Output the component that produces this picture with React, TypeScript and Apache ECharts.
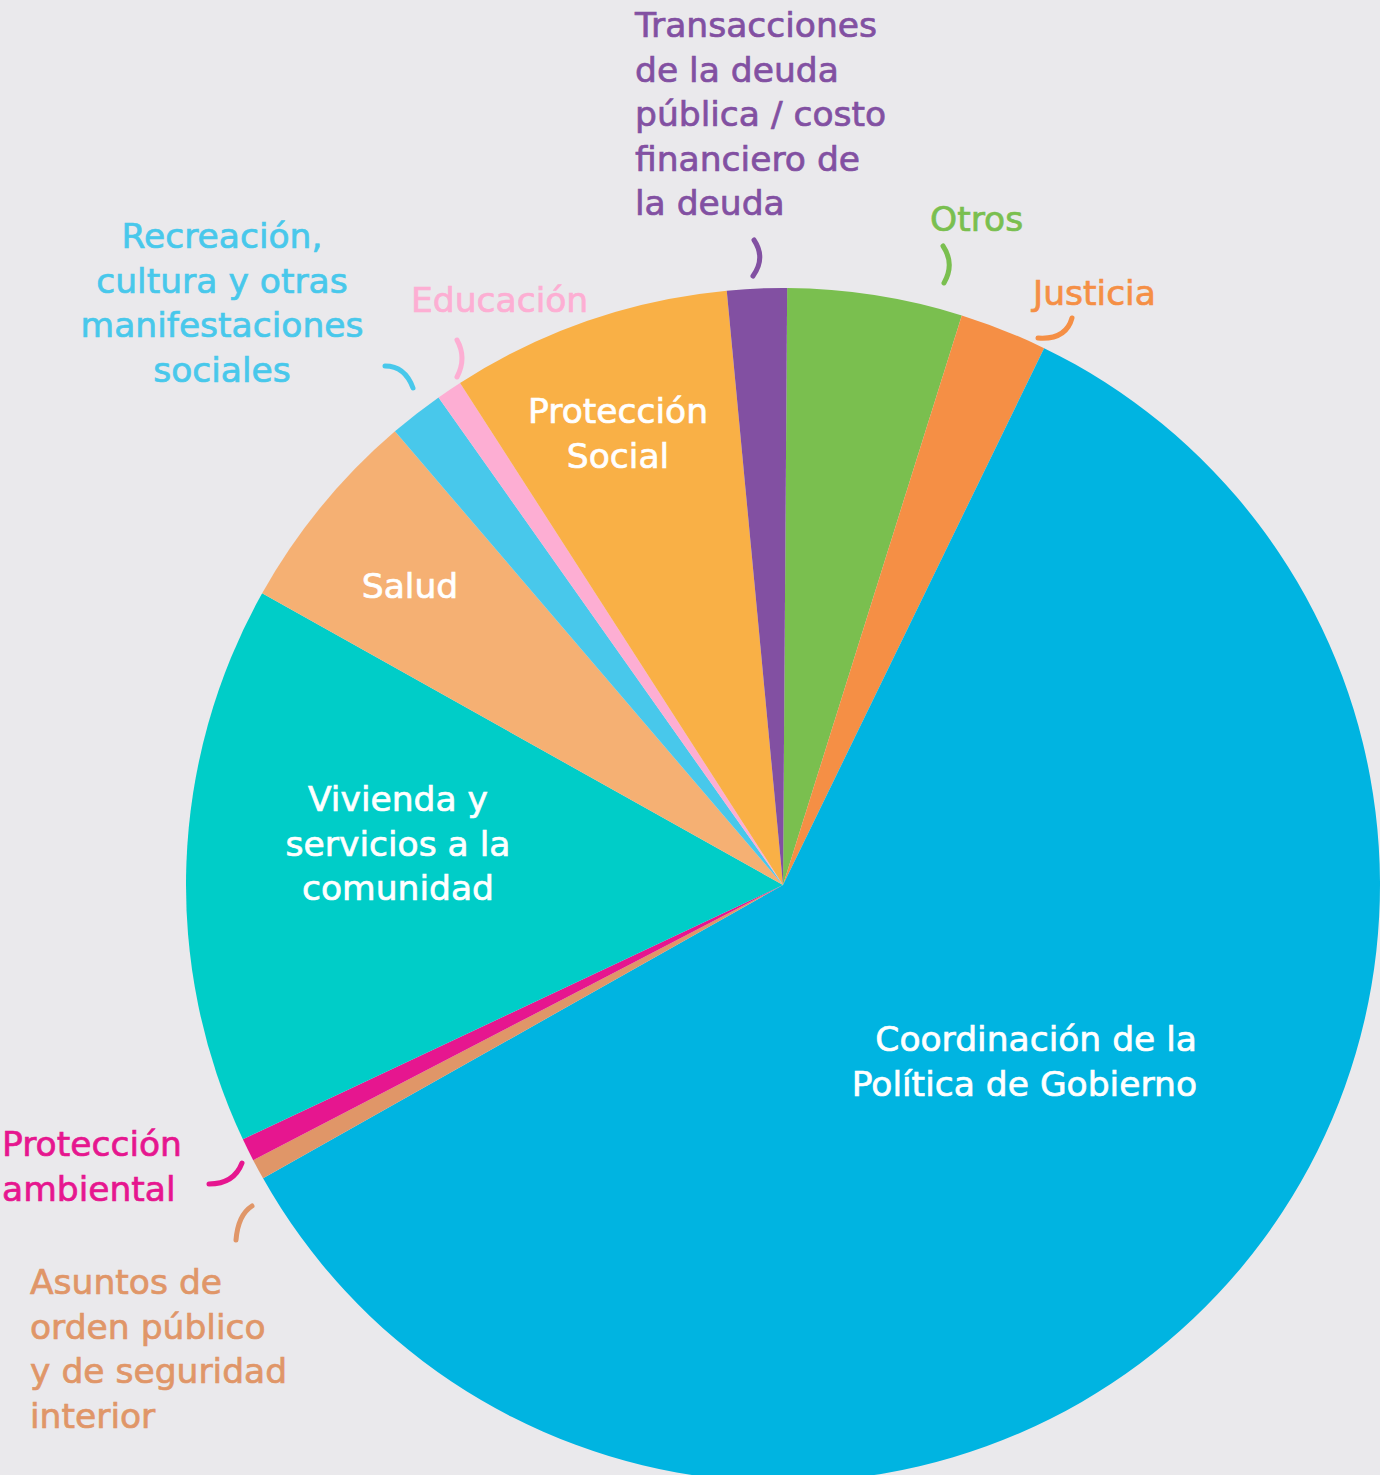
import React, { useEffect, useRef } from "react";
import * as echarts from "echarts";

const categories = [
  "Otros",
  "Justicia",
  "Coordinación de la Política de Gobierno",
  "Asuntos de orden público y de seguridad interior",
  "Protección ambiental",
  "Vivienda y servicios a la comunidad",
  "Salud",
  "Recreación, cultura y otras manifestaciones sociales",
  "Educación",
  "Protección Social",
  "Transacciones de la deuda pública / costo financiero de la deuda",
];
const labelTexts = [
  "Otros",
  "Justicia",
  "Coordinación de la\nPolítica de Gobierno",
  "Asuntos de\norden público\ny de seguridad\ninterior",
  "Protección\nambiental",
  "Vivienda y\nservicios a la\ncomunidad",
  "Salud",
  "Recreación,\ncultura y otras\nmanifestaciones\nsociales",
  "Educación",
  "Protección\nSocial",
  "Transacciones\nde la deuda\npública / costo\nfinanciero de\nla deuda",
];
const values = [4.72, 2.36, 59.5, 0.55, 0.62, 15.1, 5.6, 1.47, 0.69, 7.58, 1.61];
const sliceColors = [
  "#7ABF4F", "#F58F45", "#00B4E1", "#E09668", "#E6168F", "#00CDC8",
  "#F5B073", "#48C8EB", "#FDAED3", "#F9B046", "#8250A2",
];
const labelColors = [
  "#7ABF4F", "#F58F45", "#FFFFFF", "#E09668", "#E6168F", "#FFFFFF",
  "#FFFFFF", "#48C8EB", "#FDAED3", "#FFFFFF", "#8250A2",
];

// label anchor placement (pixels) — layout only
const labelPos: { x: number; y: number; align: string }[] = [
  { x: 930, y: 197, align: "left" },
  { x: 1033, y: 271, align: "left" },
  { x: 1197, y: 1017, align: "right" },
  { x: 30, y: 1260, align: "left" },
  { x: 2, y: 1122, align: "left" },
  { x: 398, y: 777, align: "center" },
  { x: 410, y: 564, align: "center" },
  { x: 222, y: 214, align: "center" },
  { x: 411, y: 278, align: "left" },
  { x: 618, y: 389, align: "center" },
  { x: 635, y: 3, align: "left" },
];

// curved leader strokes: [x1, y1, cpx, cpy, x2, y2, colorIndex]
const leaders: number[][] = [
  [943, 246, 955, 264, 944, 283, 0],
  [1038, 338, 1066, 340, 1072, 318, 1],
  [252, 1206, 238, 1215, 236, 1240, 3],
  [209, 1184, 234, 1184, 242, 1163, 4],
  [385, 366, 405, 366, 413, 388, 7],
  [457, 340, 467, 358, 457, 377, 8],
  [754, 240, 766, 258, 753, 276, 10],
];

export default function App() {
  const ref = useRef<HTMLDivElement>(null);
  useEffect(() => {
    if (!ref.current) return;
    const chart = echarts.init(ref.current, undefined, { renderer: "svg" });
    const font = "'DejaVu Sans', 'Open Sans', sans-serif";
    chart.setOption({
      animation: false,
      backgroundColor: "#EAE9EC",
      graphic: leaders.map((l) => ({
        type: "bezierCurve",
        shape: { x1: l[0], y1: l[1], cpx1: l[2], cpy1: l[3], x2: l[4], y2: l[5] },
        style: { stroke: sliceColors[l[6]], lineWidth: 5, lineCap: "round", fill: "none" },
        z: 10,
      })),
      series: [
        {
          type: "pie",
          center: [783, 885],
          radius: [0, 597],
          startAngle: 89.6,
          clockwise: true,
          avoidLabelOverlap: false,
          silent: true,
          labelLine: { show: false },
          data: categories.map((name, i) => ({
            name,
            value: values[i],
            itemStyle: { color: sliceColors[i] },
            label: {
              show: true,
              formatter: labelTexts[i],
              color: labelColors[i],
              textBorderColor: labelColors[i],
              textBorderWidth: 0.7,
              fontFamily: font,
              fontSize: 34.5,
              lineHeight: 44.5,
              align: labelPos[i].align,
              verticalAlign: "top",
            },
          })),
          labelLayout: (p: any) => {
            const lp = labelPos[p.dataIndex];
            return { x: lp.x, y: lp.y, align: lp.align, verticalAlign: "top" };
          },
        },
      ],
    });
    return () => chart.dispose();
  }, []);
  return (
    <div
      ref={ref}
      style={{ position: "absolute", left: 0, top: 0, width: 1380, height: 1475 }}
    />
  );
}
